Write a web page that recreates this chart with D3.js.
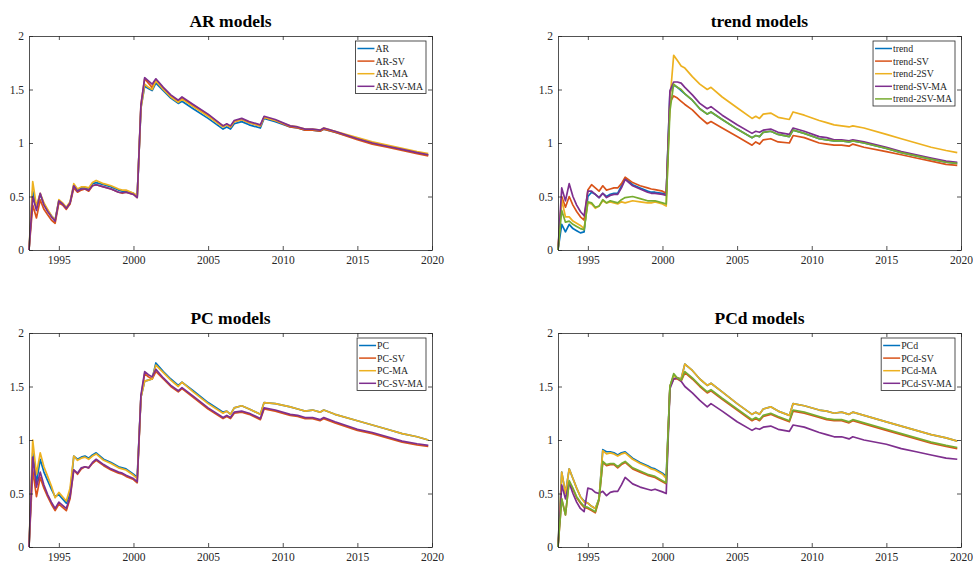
<!DOCTYPE html>
<html>
<head>
<meta charset="utf-8">
<script src="https://cdn.jsdelivr.net/npm/d3@7"></script>
<style>
  body { margin: 0; background: #fff; }
  svg { display: block; }
  text { font-family: "Liberation Serif", "Times New Roman", serif; fill: #262626; }
</style>
</head>
<body>
<div id="graph"></div>
<script>
// quarterly break points (decimal year) where the lines change direction
const dates = [1993.0, 1993.25, 1993.5, 1993.75, 1994.0, 1994.25, 1994.5, 1994.75,
  1995.0, 1995.25, 1995.5, 1995.75, 1996.0, 1996.25, 1996.5, 1996.75, 1997.0, 1997.25,
  1997.5, 1998.0, 1998.5, 1999.0, 1999.25, 1999.5, 2000.0, 2000.25, 2000.5, 2000.75,
  2001.0, 2001.25, 2001.5, 2002.0, 2002.5, 2003.0, 2003.25, 2004.0, 2005.0, 2006.0,
  2006.25, 2006.5, 2006.75, 2007.25, 2007.75, 2008.5, 2008.75, 2009.5, 2010.5, 2011.0,
  2011.5, 2012.0, 2012.5, 2012.75, 2013.5, 2015.0, 2016.0, 2017.0, 2018.0, 2019.0, 2019.75];

const xTicks = [1995, 2000, 2005, 2010, 2015, 2020];
const yTicks = [0, 0.5, 1, 1.5, 2];
const colors = ["#0072BD", "#D95319", "#EDB120", "#7E2F8E", "#77AC30"];

// AR models
const arNames = ["AR", "AR-SV", "AR-MA", "AR-SV-MA"];
const ar = [0, 0.55, 0.40, 0.52, 0.43, 0.37, 0.32, 0.28, 0.46, 0.43, 0.39, 0.44, 0.60, 0.56, 0.58, 0.58, 0.57, 0.62, 0.63, 0.61, 0.59, 0.56, 0.55, 0.55, 0.53, 0.50, 1.33, 1.53, 1.51, 1.49, 1.56, 1.49, 1.42, 1.37, 1.39, 1.32, 1.23, 1.13, 1.15, 1.13, 1.18, 1.20, 1.17, 1.14, 1.23, 1.20, 1.15, 1.14, 1.12, 1.12, 1.11, 1.13, 1.10, 1.04, 1.00, 0.97, 0.94, 0.91, 0.89];
const arSv = [0, 0.42, 0.30, 0.47, 0.38, 0.33, 0.28, 0.25, 0.44, 0.42, 0.38, 0.43, 0.58, 0.54, 0.56, 0.57, 0.55, 0.60, 0.61, 0.59, 0.57, 0.54, 0.53, 0.54, 0.52, 0.49, 1.36, 1.60, 1.56, 1.52, 1.59, 1.51, 1.44, 1.39, 1.42, 1.35, 1.26, 1.16, 1.17, 1.15, 1.20, 1.22, 1.19, 1.16, 1.24, 1.21, 1.15, 1.14, 1.12, 1.12, 1.11, 1.13, 1.10, 1.03, 0.99, 0.96, 0.93, 0.90, 0.88];
const arMa = [0, 0.64, 0.41, 0.53, 0.44, 0.38, 0.32, 0.28, 0.47, 0.44, 0.40, 0.45, 0.62, 0.57, 0.59, 0.59, 0.58, 0.63, 0.65, 0.62, 0.60, 0.57, 0.56, 0.56, 0.53, 0.51, 1.32, 1.55, 1.52, 1.50, 1.58, 1.50, 1.43, 1.38, 1.41, 1.34, 1.25, 1.15, 1.17, 1.15, 1.20, 1.22, 1.19, 1.16, 1.24, 1.21, 1.16, 1.15, 1.13, 1.13, 1.12, 1.14, 1.11, 1.05, 1.01, 0.98, 0.95, 0.92, 0.90];
const arSvMa = [0, 0.50, 0.37, 0.53, 0.42, 0.36, 0.31, 0.27, 0.46, 0.43, 0.39, 0.44, 0.60, 0.55, 0.57, 0.57, 0.56, 0.60, 0.61, 0.59, 0.57, 0.54, 0.535, 0.54, 0.52, 0.49, 1.35, 1.61, 1.58, 1.55, 1.60, 1.52, 1.45, 1.40, 1.43, 1.36, 1.27, 1.16, 1.18, 1.16, 1.21, 1.23, 1.20, 1.17, 1.25, 1.22, 1.16, 1.15, 1.13, 1.13, 1.12, 1.14, 1.11, 1.04, 1.00, 0.97, 0.94, 0.91, 0.89];

// trend models
const trendNames = ["trend", "trend-SV", "trend-2SV", "trend-SV-MA", "trend-2SV-MA"];
const trend = [0, 0.24, 0.17, 0.24, 0.20, 0.18, 0.16, 0.17, 0.50, 0.54, 0.52, 0.49, 0.53, 0.50, 0.52, 0.53, 0.53, 0.60, 0.67, 0.61, 0.58, 0.55, 0.54, 0.54, 0.53, 0.52, 1.47, 1.54, 1.52, 1.49, 1.46, 1.40, 1.32, 1.27, 1.29, 1.22, 1.13, 1.05, 1.07, 1.06, 1.10, 1.11, 1.08, 1.06, 1.12, 1.09, 1.04, 1.03, 1.02, 1.02, 1.01, 1.02, 1.00, 0.95, 0.91, 0.88, 0.85, 0.82, 0.81];
const trendSv = [0, 0.50, 0.40, 0.50, 0.42, 0.36, 0.31, 0.28, 0.56, 0.61, 0.58, 0.55, 0.60, 0.56, 0.57, 0.58, 0.58, 0.62, 0.68, 0.63, 0.60, 0.58, 0.57, 0.565, 0.55, 0.53, 1.38, 1.44, 1.42, 1.39, 1.36, 1.31, 1.24, 1.18, 1.20, 1.14, 1.06, 0.98, 1.01, 0.99, 1.03, 1.04, 1.01, 1.00, 1.07, 1.05, 1.00, 0.99, 0.98, 0.98, 0.97, 0.99, 0.96, 0.92, 0.89, 0.86, 0.83, 0.80, 0.79];
const trend2Sv = [0, 0.47, 0.31, 0.31, 0.27, 0.25, 0.23, 0.20, 0.44, 0.43, 0.39, 0.41, 0.46, 0.44, 0.45, 0.44, 0.43, 0.45, 0.44, 0.46, 0.45, 0.44, 0.44, 0.45, 0.43, 0.41, 1.40, 1.82, 1.77, 1.72, 1.70, 1.62, 1.55, 1.50, 1.52, 1.43, 1.33, 1.23, 1.25, 1.23, 1.27, 1.28, 1.24, 1.22, 1.29, 1.26, 1.21, 1.19, 1.17, 1.16, 1.15, 1.16, 1.14, 1.08, 1.04, 1.00, 0.96, 0.93, 0.91];
const trendSvMa = [0, 0.58, 0.46, 0.62, 0.50, 0.42, 0.36, 0.32, 0.55, 0.55, 0.52, 0.49, 0.53, 0.49, 0.51, 0.52, 0.52, 0.58, 0.66, 0.60, 0.57, 0.54, 0.53, 0.53, 0.52, 0.51, 1.49, 1.57, 1.57, 1.56, 1.52, 1.45, 1.37, 1.32, 1.34, 1.26, 1.17, 1.09, 1.11, 1.10, 1.12, 1.13, 1.10, 1.08, 1.14, 1.11, 1.06, 1.05, 1.03, 1.03, 1.02, 1.03, 1.01, 0.96, 0.92, 0.89, 0.86, 0.83, 0.82];
const trend2SvMa = [0, 0.37, 0.26, 0.27, 0.24, 0.22, 0.20, 0.19, 0.45, 0.44, 0.40, 0.41, 0.47, 0.44, 0.46, 0.45, 0.44, 0.47, 0.49, 0.50, 0.48, 0.46, 0.46, 0.46, 0.44, 0.43, 1.30, 1.55, 1.52, 1.50, 1.46, 1.40, 1.32, 1.27, 1.29, 1.22, 1.13, 1.05, 1.07, 1.06, 1.10, 1.11, 1.08, 1.06, 1.12, 1.09, 1.04, 1.03, 1.02, 1.02, 1.01, 1.02, 1.00, 0.95, 0.91, 0.88, 0.85, 0.82, 0.81];

// PC models
const pcNames = ["PC", "PC-SV", "PC-MA", "PC-SV-MA"];
const pc = [0, 0.88, 0.60, 0.82, 0.70, 0.62, 0.54, 0.47, 0.49, 0.45, 0.41, 0.50, 0.85, 0.82, 0.84, 0.85, 0.83, 0.86, 0.88, 0.82, 0.79, 0.75, 0.74, 0.73, 0.68, 0.65, 1.40, 1.55, 1.56, 1.57, 1.72, 1.64, 1.57, 1.51, 1.54, 1.46, 1.35, 1.26, 1.27, 1.24, 1.30, 1.32, 1.29, 1.24, 1.35, 1.34, 1.31, 1.29, 1.27, 1.28, 1.26, 1.28, 1.24, 1.18, 1.14, 1.10, 1.06, 1.03, 1.00];
const pcSv = [0, 0.72, 0.47, 0.65, 0.55, 0.47, 0.40, 0.34, 0.40, 0.37, 0.34, 0.45, 0.72, 0.68, 0.73, 0.75, 0.74, 0.78, 0.81, 0.76, 0.72, 0.69, 0.68, 0.66, 0.63, 0.60, 1.40, 1.62, 1.59, 1.57, 1.64, 1.57, 1.50, 1.45, 1.48, 1.40, 1.29, 1.20, 1.22, 1.20, 1.25, 1.26, 1.24, 1.19, 1.29, 1.27, 1.23, 1.22, 1.20, 1.20, 1.18, 1.20, 1.16, 1.09, 1.06, 1.02, 0.98, 0.955, 0.94];
const pcMa = [0, 1.00, 0.68, 0.88, 0.75, 0.66, 0.57, 0.46, 0.51, 0.47, 0.43, 0.55, 0.85, 0.81, 0.83, 0.84, 0.82, 0.85, 0.87, 0.81, 0.78, 0.74, 0.73, 0.72, 0.67, 0.64, 1.40, 1.55, 1.56, 1.57, 1.70, 1.63, 1.56, 1.50, 1.54, 1.45, 1.34, 1.25, 1.27, 1.24, 1.30, 1.32, 1.29, 1.24, 1.35, 1.34, 1.31, 1.29, 1.27, 1.28, 1.26, 1.28, 1.24, 1.18, 1.14, 1.10, 1.06, 1.03, 1.00];
const pcSvMa = [0, 0.84, 0.56, 0.70, 0.58, 0.49, 0.42, 0.36, 0.42, 0.39, 0.36, 0.47, 0.72, 0.69, 0.74, 0.75, 0.74, 0.79, 0.82, 0.77, 0.73, 0.70, 0.69, 0.67, 0.64, 0.61, 1.42, 1.64, 1.61, 1.59, 1.66, 1.58, 1.51, 1.46, 1.49, 1.41, 1.30, 1.21, 1.23, 1.21, 1.26, 1.27, 1.25, 1.20, 1.30, 1.28, 1.24, 1.23, 1.21, 1.21, 1.19, 1.21, 1.17, 1.10, 1.07, 1.03, 0.99, 0.965, 0.95];

// PCd models (the fifth, green series has no legend entry)
const pcdNames = ["PCd", "PCd-SV", "PCd-MA", "PCd-SV-MA"];
const pcd = [0, 0.70, 0.50, 0.73, 0.64, 0.55, 0.47, 0.43, 0.41, 0.38, 0.36, 0.45, 0.91, 0.89, 0.89, 0.88, 0.86, 0.88, 0.89, 0.83, 0.79, 0.76, 0.74, 0.73, 0.69, 0.66, 1.50, 1.60, 1.58, 1.57, 1.71, 1.65, 1.57, 1.51, 1.53, 1.45, 1.34, 1.24, 1.26, 1.24, 1.29, 1.31, 1.27, 1.23, 1.34, 1.32, 1.28, 1.27, 1.25, 1.26, 1.24, 1.26, 1.23, 1.17, 1.13, 1.09, 1.05, 1.02, 0.99];
const pcdSv = [0, 0.45, 0.30, 0.61, 0.54, 0.46, 0.41, 0.37, 0.36, 0.34, 0.32, 0.44, 0.79, 0.76, 0.77, 0.77, 0.74, 0.77, 0.79, 0.73, 0.70, 0.67, 0.66, 0.65, 0.61, 0.59, 1.50, 1.57, 1.57, 1.55, 1.63, 1.57, 1.50, 1.44, 1.46, 1.38, 1.28, 1.18, 1.20, 1.18, 1.22, 1.24, 1.21, 1.17, 1.27, 1.25, 1.21, 1.19, 1.18, 1.18, 1.16, 1.18, 1.15, 1.09, 1.05, 1.01, 0.97, 0.94, 0.92];
const pcdMa = [0, 0.70, 0.50, 0.73, 0.64, 0.55, 0.47, 0.42, 0.41, 0.38, 0.36, 0.45, 0.90, 0.87, 0.88, 0.87, 0.85, 0.87, 0.88, 0.82, 0.78, 0.75, 0.73, 0.72, 0.68, 0.64, 1.50, 1.60, 1.58, 1.57, 1.71, 1.65, 1.57, 1.51, 1.53, 1.45, 1.34, 1.24, 1.26, 1.24, 1.29, 1.31, 1.27, 1.23, 1.34, 1.32, 1.28, 1.27, 1.25, 1.26, 1.24, 1.26, 1.23, 1.17, 1.13, 1.09, 1.05, 1.02, 0.99];
const pcdSvMa = [0, 0.58, 0.45, 0.60, 0.50, 0.42, 0.36, 0.33, 0.55, 0.54, 0.51, 0.50, 0.52, 0.48, 0.51, 0.52, 0.52, 0.58, 0.65, 0.59, 0.56, 0.54, 0.53, 0.54, 0.515, 0.50, 1.48, 1.57, 1.58, 1.55, 1.50, 1.44, 1.37, 1.31, 1.34, 1.27, 1.17, 1.09, 1.11, 1.10, 1.12, 1.13, 1.10, 1.08, 1.14, 1.12, 1.07, 1.05, 1.03, 1.03, 1.01, 1.03, 1.00, 0.96, 0.92, 0.89, 0.86, 0.83, 0.82];
const pcdExtra = [0, 0.45, 0.30, 0.62, 0.55, 0.47, 0.42, 0.38, 0.37, 0.35, 0.33, 0.45, 0.80, 0.77, 0.78, 0.78, 0.75, 0.78, 0.80, 0.74, 0.71, 0.68, 0.67, 0.66, 0.62, 0.60, 1.50, 1.62, 1.58, 1.56, 1.64, 1.58, 1.51, 1.45, 1.47, 1.39, 1.29, 1.19, 1.21, 1.19, 1.23, 1.25, 1.22, 1.18, 1.28, 1.26, 1.22, 1.20, 1.19, 1.19, 1.17, 1.19, 1.16, 1.10, 1.06, 1.02, 0.98, 0.95, 0.93];

const panels = [
  { title: "AR models", left: 29, top: 36, names: arNames, series: [ar, arSv, arMa, arSvMa] },
  { title: "trend models", left: 558, top: 36, names: trendNames, series: [trend, trendSv, trend2Sv, trendSvMa, trend2SvMa] },
  { title: "PC models", left: 29, top: 333, names: pcNames, series: [pc, pcSv, pcMa, pcSvMa] },
  { title: "PCd models", left: 558, top: 333, names: pcdNames, series: [pcd, pcdSv, pcdMa, pcdSvMa, pcdExtra] }
];

const width = 403, height = 214;
const axisColor = "#262626";
const serif = "'Liberation Serif', 'Times New Roman', serif";

const svg = d3.select("#graph").append("svg")
  .attr("width", 973).attr("height", 561);

panels.forEach((p) => {
  const g = svg.append("g").attr("transform", "translate(" + p.left + "," + p.top + ")");
  const x = d3.scaleLinear().domain([1993, 2020]).range([0, width]);
  const y = d3.scaleLinear().domain([0, 2]).range([height, 0]);

  // lines
  const line = d3.line().x((d, i) => x(dates[i])).y((d) => y(d));
  p.series.forEach((s, i) => {
    g.append("path")
      .attr("d", line(s))
      .attr("fill", "none")
      .attr("stroke", colors[i])
      .attr("stroke-width", 1.7)
      .attr("stroke-linejoin", "round");
  });

  // axes, ticks pointing inward on all four sides
  g.append("g").attr("transform", "translate(0," + height + ")")
    .call(d3.axisBottom(x).tickValues(xTicks).tickFormat(d3.format("d")).tickSizeInner(-4).tickSizeOuter(0).tickPadding(6));
  g.append("g")
    .call(d3.axisTop(x).tickValues(xTicks).tickFormat("").tickSizeInner(-4).tickSizeOuter(0));
  g.append("g")
    .call(d3.axisLeft(y).tickValues(yTicks).tickFormat(d3.format("")).tickSizeInner(-4).tickSizeOuter(0).tickPadding(5));
  g.append("g").attr("transform", "translate(" + width + ",0)")
    .call(d3.axisRight(y).tickValues(yTicks).tickFormat("").tickSizeInner(-4).tickSizeOuter(0));
  g.selectAll(".domain, .tick line").attr("stroke", axisColor).attr("stroke-width", 0.8);
  g.selectAll(".tick text").attr("fill", axisColor).style("font-size", "11.5px")
    .style("font-family", serif);

  // title
  g.append("text")
    .attr("x", width / 2).attr("y", -9)
    .attr("text-anchor", "middle")
    .style("font-family", serif)
    .style("font-size", "17.5px").style("font-weight", "bold").style("fill", "#000")
    .text(p.title);

  // legend
  const rowH = 12.6;
  const leg = g.append("g");
  const box = leg.append("rect").attr("fill", "#fff").attr("stroke", axisColor).attr("stroke-width", 0.8);
  let maxW = 0;
  p.names.forEach((name, i) => {
    const cy = 7.5 + i * rowH;
    leg.append("line").attr("x1", 2).attr("x2", 19).attr("y1", cy).attr("y2", cy)
      .attr("stroke", colors[i]).attr("stroke-width", 1.5);
    const t = leg.append("text").attr("x", 20).attr("y", cy + 3.4)
      .style("font-family", serif)
      .style("font-size", "9.8px").text(name);
    maxW = Math.max(maxW, t.node().getComputedTextLength());
  });
  const bw = 20 + maxW + 3, bh = p.names.length * rowH + 2;
  box.attr("width", bw).attr("height", bh);
  leg.attr("transform", "translate(" + (width - 6 - bw) + ",5)");
});
</script>
</body>
</html>
